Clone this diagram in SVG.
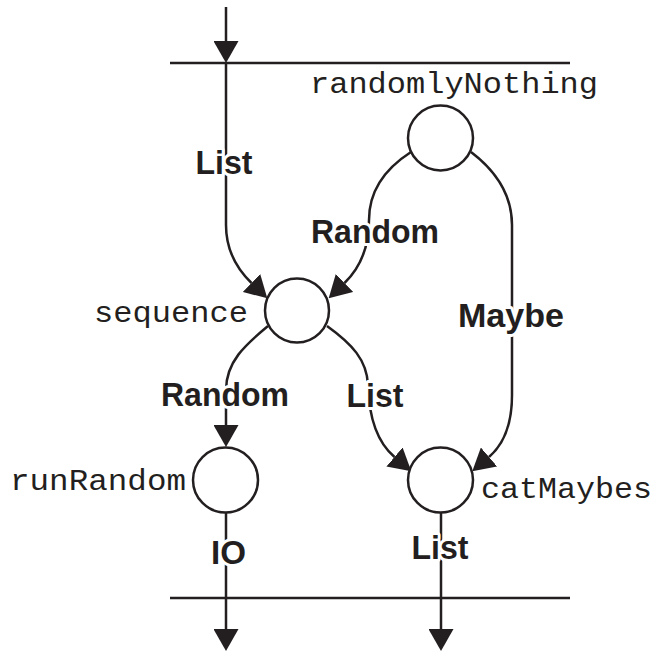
<svg xmlns="http://www.w3.org/2000/svg" width="654" height="652" viewBox="0 0 654 652">
  <style>
    .bg { fill: #ffffff; }
    .rule { stroke: #231f20; stroke-width: 2.5; fill: none; }
    .edge { stroke: #231f20; stroke-width: 2.5; fill: none; marker-end: url(#arrow); }
    .node { fill: #ffffff; stroke: #231f20; stroke-width: 2.5; }
    .fn { font-family: "Liberation Mono", "DejaVu Sans Mono", monospace; font-size: 30px; fill: #231f20; }
    .lbl { font-family: "Liberation Sans", Arial, sans-serif; font-weight: bold; font-size: 34px; fill: #231f20;
           text-anchor: middle; stroke: #ffffff; stroke-width: 6; stroke-linejoin: round; paint-order: stroke; }
  </style>
  <defs>
    <marker id="arrow" markerUnits="userSpaceOnUse" viewBox="0 0 22 25" markerWidth="22" markerHeight="25"
            refX="0" refY="12.5" orient="auto">
      <path d="M0,0 L22,12.5 L0,25 z" fill="#231f20"/>
    </marker>
  </defs>

  <rect class="bg" x="0" y="0" width="654" height="652"/>

  <!-- input / output boundaries -->
  <g id="boundaries">
    <line class="rule" x1="170" y1="63" x2="570" y2="63"/>
    <line class="rule" x1="170" y1="598" x2="570" y2="598"/>
  </g>

  <!-- connectors -->
  <g id="connectors">
    <path class="edge" d="M226,7 V41"/>
    <path class="edge" d="M226,63 V225 C226,250 236,268 251.5,283"/>
    <path class="edge" d="M411,152 C383,170 369,192 369,220 C369,248 360,268 344.5,283"/>
    <path class="edge" d="M471,152 C492,168 512,192 512,225 V395 C512,425 503,445 489,457"/>
    <path class="edge" d="M268,326 C245,345 226,362 226,390 V425"/>
    <path class="edge" d="M327,326 C352,344 367,360 368,385 C369,420 378,443 394.5,457"/>
    <path class="edge" d="M226,513 V629"/>
    <path class="edge" d="M441,513 V629"/>
  </g>

  <!-- edge labels -->
  <g id="edge-labels">
    <text class="lbl" x="224" y="174" textLength="57" lengthAdjust="spacingAndGlyphs">List</text>
    <text class="lbl" x="375" y="243" textLength="128" lengthAdjust="spacingAndGlyphs">Random</text>
    <text class="lbl" x="511" y="327" textLength="106" lengthAdjust="spacingAndGlyphs">Maybe</text>
    <text class="lbl" x="225" y="406" textLength="128" lengthAdjust="spacingAndGlyphs">Random</text>
    <text class="lbl" x="375" y="407" textLength="57" lengthAdjust="spacingAndGlyphs">List</text>
    <text class="lbl" x="228.5" y="564" textLength="35" lengthAdjust="spacingAndGlyphs">IO</text>
    <text class="lbl" x="440" y="559" textLength="57" lengthAdjust="spacingAndGlyphs">List</text>
  </g>

  <!-- nodes -->
  <g id="randomlyNothing">
    <circle class="node" cx="440.5" cy="138" r="32.5"/>
    <text class="fn" x="310" y="93" textLength="288" lengthAdjust="spacingAndGlyphs">randomlyNothing</text>
  </g>
  <g id="sequence">
    <circle class="node" cx="297" cy="310.5" r="32"/>
    <text class="fn" x="94" y="322" textLength="154" lengthAdjust="spacingAndGlyphs">sequence</text>
  </g>
  <g id="runRandom">
    <circle class="node" cx="225.5" cy="480" r="32.5"/>
    <text class="fn" x="10" y="490" textLength="176" lengthAdjust="spacingAndGlyphs">runRandom</text>
  </g>
  <g id="catMaybes">
    <circle class="node" cx="440.5" cy="480" r="32.5"/>
    <text class="fn" x="481" y="498" textLength="171" lengthAdjust="spacingAndGlyphs">catMaybes</text>
  </g>
</svg>
